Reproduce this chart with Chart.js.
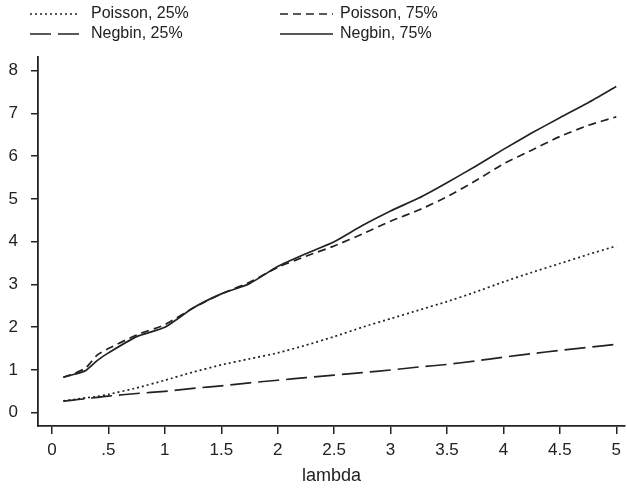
<!DOCTYPE html>
<html>
<head>
<meta charset="utf-8">
<script src="https://cdn.jsdelivr.net/npm/chart.js@4/dist/chart.umd.min.js"></script>
<style>
  html, body { margin: 0; padding: 0; background: #fff; }
  #wrap { width: 627px; height: 490px; }
</style>
</head>
<body>
<div id="wrap"><canvas id="lambdaChart"></canvas></div>
<script>
// lambda values where the curves were read
const lambda = [0.1, 0.2, 0.3, 0.4, 0.5, 0.75, 1, 1.25, 1.5, 1.75, 2, 2.25, 2.5,
  2.75, 3, 3.25, 3.5, 3.75, 4, 4.25, 4.5, 4.75, 5];

const poisson25 = [0.28, 0.31, 0.35, 0.38, 0.43, 0.58, 0.76, 0.95, 1.12, 1.26, 1.40, 1.58, 1.78,
  2.00, 2.20, 2.40, 2.60, 2.82, 3.06, 3.28, 3.49, 3.70, 3.90];
const poisson75 = [0.83, 0.92, 1.05, 1.35, 1.50, 1.82, 2.06, 2.45, 2.78, 3.05, 3.40, 3.66, 3.90,
  4.18, 4.48, 4.74, 5.05, 5.42, 5.82, 6.14, 6.46, 6.72, 6.92];
const negbin25 = [0.27, 0.30, 0.33, 0.36, 0.39, 0.45, 0.50, 0.57, 0.63, 0.70, 0.76, 0.82, 0.88,
  0.94, 1.00, 1.07, 1.13, 1.21, 1.30, 1.38, 1.46, 1.53, 1.60];
const negbin75 = [0.83, 0.90, 0.99, 1.22, 1.40, 1.78, 2.00, 2.45, 2.78, 3.02, 3.42, 3.72, 4.00,
  4.38, 4.72, 5.02, 5.38, 5.76, 6.16, 6.54, 6.90, 7.25, 7.63];

const seriesLabels = ['Poisson, 25%', 'Poisson, 75%', 'Negbin, 25%', 'Negbin, 75%'];

const xTicks = [0, 0.5, 1, 1.5, 2, 2.5, 3, 3.5, 4, 4.5, 5];
const xTickLabels = ['0', '.5', '1', '1.5', '2', '2.5', '3', '3.5', '4', '4.5', '5'];
const yTicks = [0, 1, 2, 3, 4, 5, 6, 7, 8];

const ink = '#222';
const FONT = "'Liberation Sans', Arial, sans-serif";

function toPoints(ys) {
  return lambda.map((x, i) => ({ x: x, y: ys[i] }));
}

// legend in two columns, like the original figure
const legendSlots = [
  { lx: 30, rx: 80, tx: 91, y: 14 },
  { lx: 280, rx: 333, tx: 340, y: 14 },
  { lx: 30, rx: 80, tx: 91, y: 34 },
  { lx: 280, rx: 333, tx: 340, y: 34 },
];

const twoColLegend = {
  id: 'twoColLegend',
  afterDraw(chart) {
    const ctx = chart.ctx;
    ctx.save();
    chart.data.datasets.forEach((ds, i) => {
      const s = legendSlots[i];
      ctx.strokeStyle = ds.borderColor;
      ctx.lineWidth = ds.borderWidth;
      ctx.setLineDash(ds.borderDash || []);
      ctx.beginPath();
      ctx.moveTo(s.lx, s.y);
      ctx.lineTo(s.rx, s.y);
      ctx.stroke();
      ctx.setLineDash([]);
      ctx.fillStyle = ink;
      ctx.font = '16px ' + FONT;
      ctx.textBaseline = 'middle';
      ctx.textAlign = 'left';
      ctx.fillText(ds.label, s.tx, s.y);
    });
    ctx.restore();
  }
};

const datasets = [
  { label: seriesLabels[0], data: toPoints(poisson25), borderDash: [2, 3] },
  { label: seriesLabels[1], data: toPoints(poisson75), borderDash: [8, 5] },
  { label: seriesLabels[2], data: toPoints(negbin25), borderDash: [21, 7] },
  { label: seriesLabels[3], data: toPoints(negbin75), borderDash: [] },
].map(d => Object.assign({
  borderColor: ink,
  borderWidth: 1.7,
  pointRadius: 0,
  fill: false,
  tension: 0.2,
}, d));

const ctx = document.getElementById('lambdaChart').getContext('2d');
new Chart(ctx, {
  type: 'line',
  data: { datasets: datasets },
  options: {
    responsive: true,
    maintainAspectRatio: false,
    animation: false,
    layout: { padding: { top: 57, right: 0, left: 0, bottom: 0 } },
    plugins: {
      legend: { display: false },
      tooltip: { enabled: false },
    },
    scales: {
      x: {
        type: 'linear',
        min: -0.124,
        max: 5.076,
        afterBuildTicks: (scale) => { scale.ticks = xTicks.map(v => ({ value: v })); },
        afterFit: (scale) => { scale.height = 64; },
        ticks: {
          autoSkip: false,
          maxRotation: 0,
          padding: 6,
          color: ink,
          font: { family: FONT, size: 17 },
          callback: (v) => {
            const i = xTicks.indexOf(v);
            return i >= 0 ? xTickLabels[i] : '';
          },
        },
        grid: { display: true, drawOnChartArea: false, drawTicks: true, tickLength: 8, color: ink, lineWidth: 1.5 },
        border: { display: true, color: ink, width: 1.8 },
        title: {
          display: true,
          text: 'lambda',
          color: ink,
          font: { family: FONT, size: 18 },
          padding: { top: 0, bottom: 3 },
        },
      },
      y: {
        type: 'linear',
        min: -0.31,
        max: 8.32,
        afterBuildTicks: (scale) => { scale.ticks = yTicks.map(v => ({ value: v })); },
        afterFit: (scale) => { scale.width = 38; },
        ticks: {
          padding: 13,
          color: ink,
          font: { family: FONT, size: 17 },
          callback: (v) => String(v),
        },
        grid: { display: true, drawOnChartArea: false, drawTicks: true, tickLength: 7, color: ink, lineWidth: 1.5 },
        border: { display: true, color: ink, width: 1.8 },
      },
    },
  },
  plugins: [twoColLegend],
});
</script>
</body>
</html>
